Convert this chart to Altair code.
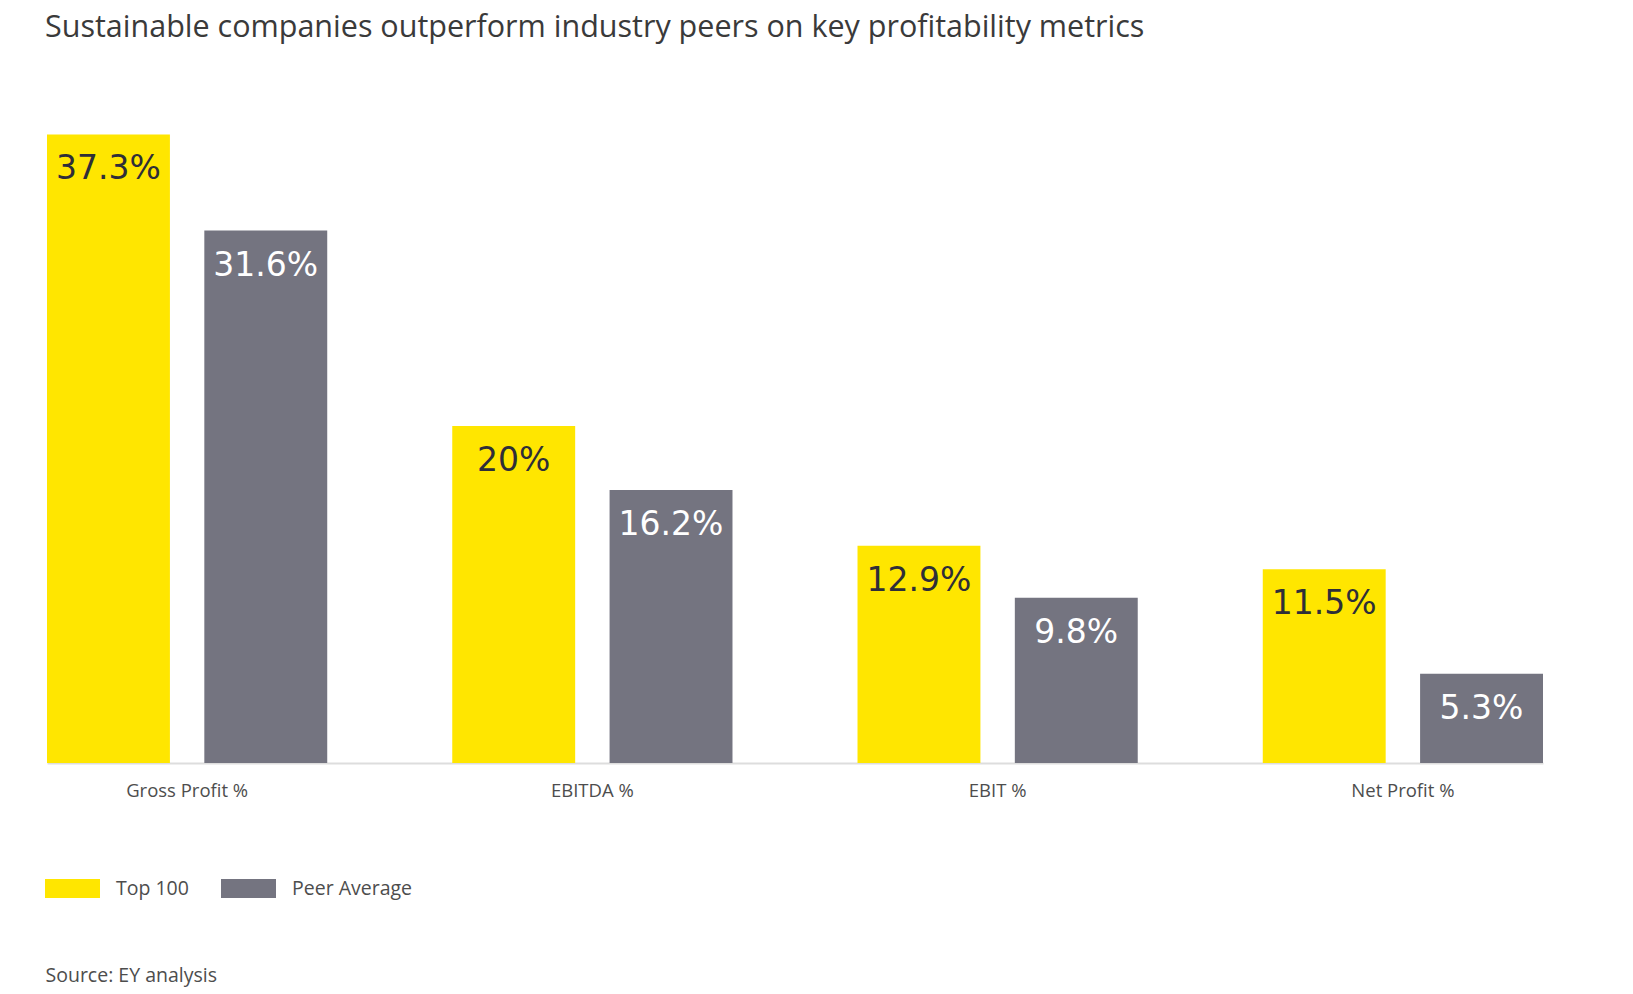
import altair as alt
import pandas as pd

categories = ["Gross Profit %", "EBITDA %", "EBIT %", "Net Profit %"]
series = ["Top 100", "Peer Average"]
top100 = [37.3, 20.0, 12.9, 11.5]
peer_avg = [31.6, 16.2, 9.8, 5.3]

rows = []
for c, a, b in zip(categories, top100, peer_avg):
    rows.append({"metric": c, "series": series[0], "value": a})
    rows.append({"metric": c, "series": series[1], "value": b})
df = pd.DataFrame(rows)

YELLOW = "#FFE600"
GREY = "#747480"

x_enc = alt.X("metric:N", sort=categories,
              scale=alt.Scale(paddingInner=0.3085, paddingOuter=0),
              axis=alt.Axis(title="Source: EY analysis", labelAngle=0, ticks=False, tickSize=0,
                            labelPadding=18, labelFontSize=18.5, labelColor="#4d4d4d",
                            labelFont="Open Sans", domainColor="#dddddd", domainWidth=2,
                            titleFont="Open Sans", titleFontSize=19.5, titleFontWeight="normal",
                            titleColor="#4d4d4d", titleAnchor="start", titleAlign="left",
                            titleX=-2, titleY=218, titleBaseline="alphabetic"))
xo_enc = alt.XOffset("series:N", sort=series,
                     scale=alt.Scale(paddingInner=0.2187, paddingOuter=0))
y_enc = alt.Y("value:Q", scale=alt.Scale(domain=[0, 40], nice=False), axis=None)

bars = alt.Chart(df).mark_bar().encode(
    x=x_enc, xOffset=xo_enc, y=y_enc,
    color=alt.Color("series:N", sort=series,
                    scale=alt.Scale(domain=series, range=[YELLOW, GREY]),
                    legend=alt.Legend(title=None, orient="none", direction="horizontal",
                                      legendX=-2, legendY=772,
                                      symbolType="M-1,-0.345L1,-0.345L1,0.345L-1,0.345Z",
                                      symbolSize=3025, symbolStrokeWidth=0, symbolOpacity=1,
                                      labelFont="Open Sans", labelFontSize=19.5,
                                      labelColor="#4d4d4d", labelOffset=16,
                                      columnPadding=32, padding=0)),
)

labels = alt.Chart(df).transform_calculate(
    label="format(datum.value, '.1~f') + '%'"
).mark_text(font="DejaVu Sans", fontSize=33, baseline="alphabetic", dy=45, align="center").encode(
    x=x_enc, xOffset=xo_enc, y=y_enc,
    text="label:N",
    color=alt.condition("datum.series == 'Top 100'", alt.value("#2e2e38"), alt.value("#ffffff")),
)

chart = alt.layer(bars, labels).properties(
    width=1496, height=674,
    background="white",
    title=alt.TitleParams("Sustainable companies outperform industry peers on key profitability metrics",
                          anchor="start", frame="group", font="Open Sans", fontSize=30.5,
                          fontWeight="normal", color="#3a3a3a", dx=-2, offset=46),
    autosize=alt.AutoSizeParams(type="none"),
    padding={"left": 39, "top": 81, "right": 60, "bottom": 230},
).configure_view(strokeWidth=0, stroke="transparent")

chart.save("out.html", embed_options={"renderer": "svg", "actions": False})
